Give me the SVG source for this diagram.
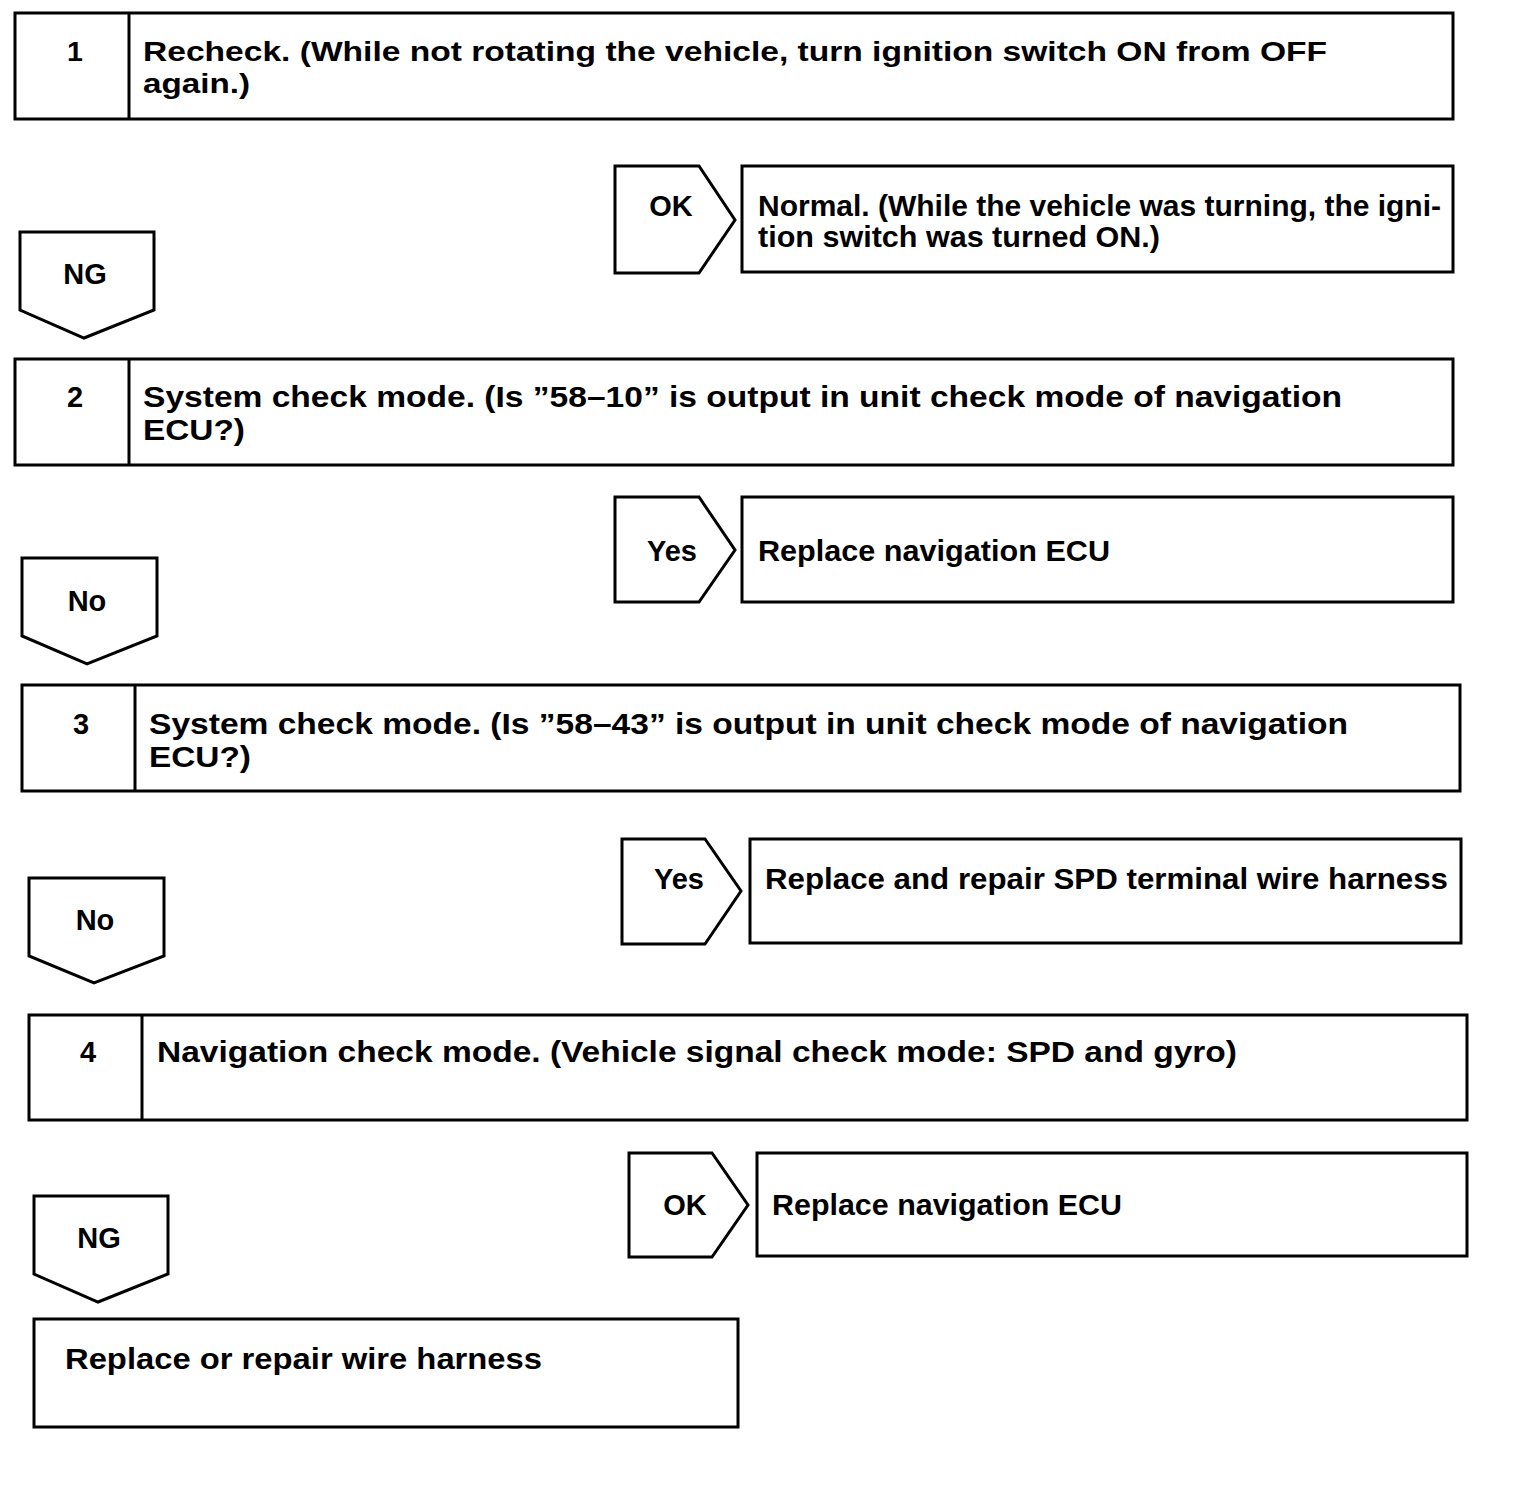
<svg xmlns="http://www.w3.org/2000/svg" width="1520" height="1490" viewBox="0 0 1520 1490">
<style>
.box{fill:#fff;stroke:#000;stroke-width:3}
.arr{fill:#fff;stroke:#000;stroke-width:3;stroke-linejoin:miter}
text{font-family:"Liberation Sans",Arial,sans-serif;font-weight:bold;fill:#000;font-size:29px}
.big{font-size:28.5px}
.c{text-anchor:middle}
</style>
<rect width="1520" height="1490" fill="#fff"/>
<g id="step1">
<rect class="box" x="15" y="13" width="1438" height="106"/>
<line class="box" x1="129" y1="13" x2="129" y2="119"/>
<text class="big c" x="75" y="61">1</text>
<text class="big" x="143" y="61" textLength="1184" lengthAdjust="spacingAndGlyphs">Recheck. (While not rotating the vehicle, turn ignition switch ON from OFF</text>
<text class="big" x="143" y="93" textLength="107" lengthAdjust="spacingAndGlyphs">again.)</text>
</g>
<g id="result1">
<rect class="box" x="742" y="166" width="711" height="106"/>
<text x="758" y="216" textLength="683" lengthAdjust="spacingAndGlyphs">Normal. (While the vehicle was turning, the igni-</text>
<text x="758" y="247" textLength="402" lengthAdjust="spacingAndGlyphs">tion switch was turned ON.)</text>
</g>
<g id="step2">
<rect class="box" x="15" y="359" width="1438" height="106"/>
<line class="box" x1="129" y1="359" x2="129" y2="465"/>
<text class="c" x="75" y="407">2</text>
<text x="143" y="407" textLength="1199" lengthAdjust="spacingAndGlyphs">System check mode. (Is ”58–10” is output in unit check mode of navigation</text>
<text x="143" y="440" textLength="102" lengthAdjust="spacingAndGlyphs">ECU?)</text>
</g>
<g id="result2">
<rect class="box" x="742" y="497" width="711" height="105"/>
<text x="758" y="561" textLength="352" lengthAdjust="spacingAndGlyphs">Replace navigation ECU</text>
</g>
<g id="step3">
<rect class="box" x="22" y="685" width="1438" height="106"/>
<line class="box" x1="135" y1="685" x2="135" y2="791"/>
<text class="c" x="81" y="734">3</text>
<text x="149" y="734" textLength="1199" lengthAdjust="spacingAndGlyphs">System check mode. (Is ”58–43” is output in unit check mode of navigation</text>
<text x="149" y="767" textLength="102" lengthAdjust="spacingAndGlyphs">ECU?)</text>
</g>
<g id="result3">
<rect class="box" x="750" y="839" width="711" height="104"/>
<text x="765" y="889" textLength="683" lengthAdjust="spacingAndGlyphs">Replace and repair SPD terminal wire harness</text>
</g>
<g id="step4">
<rect class="box" x="29" y="1015" width="1438" height="105"/>
<line class="box" x1="142" y1="1015" x2="142" y2="1120"/>
<text class="c" x="88" y="1062">4</text>
<text x="157" y="1062" textLength="1080" lengthAdjust="spacingAndGlyphs">Navigation check mode. (Vehicle signal check mode: SPD and gyro)</text>
</g>
<g id="result4">
<rect class="box" x="757" y="1153" width="710" height="103"/>
<text x="772" y="1215" textLength="350" lengthAdjust="spacingAndGlyphs">Replace navigation ECU</text>
</g>
<g id="result5">
<rect class="box" x="34" y="1319" width="704" height="108"/>
<text x="65" y="1369" textLength="477" lengthAdjust="spacingAndGlyphs">Replace or repair wire harness</text>
</g>
<g id="connectors">
<g id="ok1">
<polygon class="arr" points="615,166 699,166 735,220 699,273 615,273"/>
<text class="c" x="671" y="216">OK</text>
</g>
<g id="ng1">
<polygon class="arr" points="20,232 154,232 154,310 84,338 20,310"/>
<text class="c" x="85" y="284">NG</text>
</g>
<g id="yes2">
<polygon class="arr" points="615,497 699,497 735,550 699,602 615,602"/>
<text class="c" x="672" y="561">Yes</text>
</g>
<g id="no2">
<polygon class="arr" points="22,558 157,558 157,636 87,664 22,636"/>
<text class="c" x="87" y="611">No</text>
</g>
<g id="yes3">
<polygon class="arr" points="622,839 705,839 741,891 705,944 622,944"/>
<text class="c" x="679" y="889">Yes</text>
</g>
<g id="no3">
<polygon class="arr" points="29,878 164,878 164,956 94,983 29,956"/>
<text class="c" x="95" y="930">No</text>
</g>
<g id="ok4">
<polygon class="arr" points="629,1153 712,1153 748,1205 712,1257 629,1257"/>
<text class="c" x="685" y="1215">OK</text>
</g>
<g id="ng4">
<polygon class="arr" points="34,1196 168,1196 168,1274 98,1302 34,1274"/>
<text class="c" x="99" y="1248">NG</text>
</g>
</g>
</svg>
